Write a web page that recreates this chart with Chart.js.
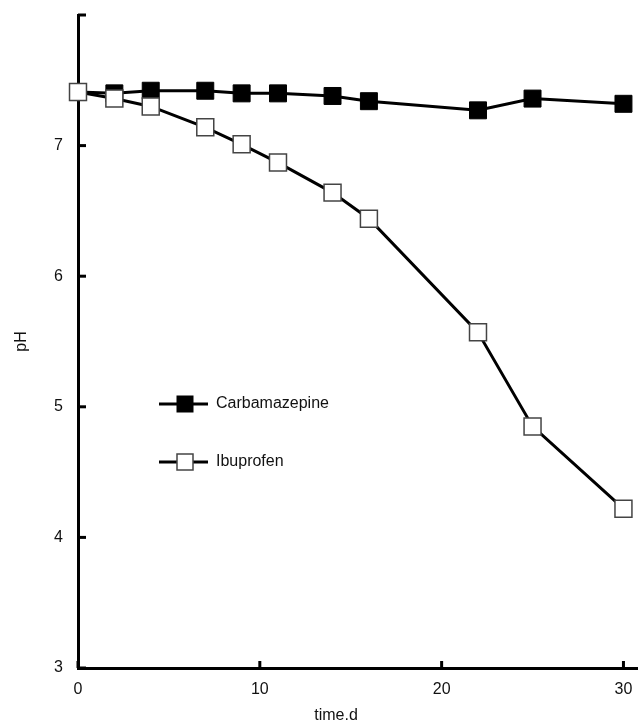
<!DOCTYPE html>
<html>
<head>
<meta charset="utf-8">
<script src="https://cdn.jsdelivr.net/npm/chart.js@4/dist/chart.umd.min.js"></script>
<style>
  html, body { margin: 0; padding: 0; background: #fff; }
  canvas { display: block; }
</style>
</head>
<body>
<canvas id="chart" width="638" height="727"></canvas>
<script>
// sampling days
const days = [0, 2, 4, 7, 9, 11, 14, 16, 22, 25, 30];
// pH
const carbamazepine = [7.41, 7.40, 7.42, 7.42, 7.40, 7.40, 7.38, 7.34, 7.27, 7.36, 7.32];
const ibuprofen = [7.41, 7.36, 7.30, 7.14, 7.01, 6.87, 6.64, 6.44, 5.57, 4.85, 4.22];

const xTicks = [0, 10, 20, 30];
const yTicks = [3, 4, 5, 6, 7, 8];
const yTickLabels = ["3", "4", "5", "6", "7", ""];

const FONT = "'Liberation Sans', Arial, sans-serif";

function toPoints(xs, ys) {
  return xs.map((x, i) => ({ x: x, y: ys[i] }));
}

// small ticks pointing into the plot, like the original
const innerTicks = {
  id: "innerTicks",
  afterDraw(chart) {
    const { ctx, chartArea, scales } = chart;
    ctx.save();
    ctx.strokeStyle = "#000";
    ctx.lineWidth = 3;
    xTicks.forEach((v) => {
      const px = scales.x.getPixelForValue(v);
      ctx.beginPath();
      ctx.moveTo(px, chartArea.bottom);
      ctx.lineTo(px, chartArea.bottom - 7);
      ctx.stroke();
    });
    yTicks.forEach((v) => {
      const py = scales.y.getPixelForValue(v);
      ctx.beginPath();
      ctx.moveTo(chartArea.left, py);
      ctx.lineTo(chartArea.left + 8, py);
      ctx.stroke();
    });
    ctx.restore();
  },
};

// axis titles
const axisTitles = {
  id: "axisTitles",
  afterDraw(chart) {
    const { ctx, chartArea } = chart;
    ctx.save();
    ctx.fillStyle = "#111";
    ctx.font = "16px " + FONT;
    ctx.textAlign = "center";
    ctx.textBaseline = "middle";
    ctx.fillText("time.d", 336, 716);
    ctx.translate(22, (chartArea.top + chartArea.bottom) / 2);
    ctx.rotate(-Math.PI / 2);
    ctx.fillText("pH", 0, 0);
    ctx.restore();
  },
};

// legend inside the plot: line + marker + name
const innerLegend = {
  id: "innerLegend",
  afterDraw(chart) {
    const { ctx } = chart;
    const rows = [chart.data.datasets[0], chart.data.datasets[1]];
    ctx.save();
    rows.forEach((ds, i) => {
      const y = 404 + i * 58;
      ctx.strokeStyle = "#000";
      ctx.lineWidth = 3;
      ctx.beginPath();
      ctx.moveTo(159, y);
      ctx.lineTo(208, y);
      ctx.stroke();
      const s = 16;
      ctx.fillStyle = ds.pointBackgroundColor;
      ctx.fillRect(185 - s / 2, y - s / 2, s, s);
      ctx.strokeStyle = ds.pointBorderColor;
      ctx.lineWidth = ds.pointBorderWidth;
      ctx.strokeRect(185 - s / 2, y - s / 2, s, s);
      ctx.fillStyle = "#111";
      ctx.font = "16px " + FONT;
      ctx.textAlign = "left";
      ctx.textBaseline = "middle";
      ctx.fillText(ds.label, 216, y);
    });
    ctx.restore();
  },
};

const config = {
  type: "line",
  data: {
    datasets: [
      {
        label: "Carbamazepine",
        data: toPoints(days, carbamazepine),
        borderColor: "#000",
        borderWidth: 3,
        pointStyle: "rect",
        pointRadius: 12,
        pointBackgroundColor: "#000",
        pointBorderColor: "#000",
        pointBorderWidth: 1,
        order: 2,
        clip: false,
      },
      {
        label: "Ibuprofen",
        data: toPoints(days, ibuprofen),
        borderColor: "#000",
        borderWidth: 3,
        pointStyle: "rect",
        pointRadius: 12,
        pointBackgroundColor: "#fff",
        pointBorderColor: "#444",
        pointBorderWidth: 1.5,
        order: 1,
        clip: false,
      },
    ],
  },
  options: {
    responsive: false,
    devicePixelRatio: 1,
    animation: false,
    layout: { autoPadding: false, padding: { top: 15, right: 0, left: 0, bottom: 0 } },
    plugins: {
      legend: { display: false },
      tooltip: { enabled: false },
    },
    scales: {
      x: {
        type: "linear",
        min: 0,
        max: 30.8,
        afterFit: (scale) => {
          scale.height = 59;
          scale.paddingLeft = 0;
          scale.paddingRight = 0;
        },
        afterBuildTicks: (scale) => { scale.ticks = xTicks.map((v) => ({ value: v })); },
        grid: { display: false, drawTicks: false },
        border: { display: true, color: "#000", width: 3 },
        ticks: {
          padding: 12,
          color: "#111",
          font: { size: 16, family: FONT },
          maxRotation: 0,
          callback: (v) => String(v),
        },
      },
      y: {
        type: "linear",
        min: 3,
        max: 8,
        afterFit: (scale) => {
          scale.width = 78;
          scale.paddingTop = 0;
          scale.paddingBottom = 0;
        },
        afterBuildTicks: (scale) => { scale.ticks = yTicks.map((v) => ({ value: v })); },
        grid: { display: false, drawTicks: false },
        border: { display: true, color: "#000", width: 3 },
        ticks: {
          padding: 15,
          color: "#111",
          font: { size: 16, family: FONT },
          callback: (v) => yTickLabels[yTicks.indexOf(v)],
        },
      },
    },
  },
  plugins: [innerTicks, axisTitles, innerLegend],
};

new Chart(document.getElementById("chart"), config);
</script>
</body>
</html>
